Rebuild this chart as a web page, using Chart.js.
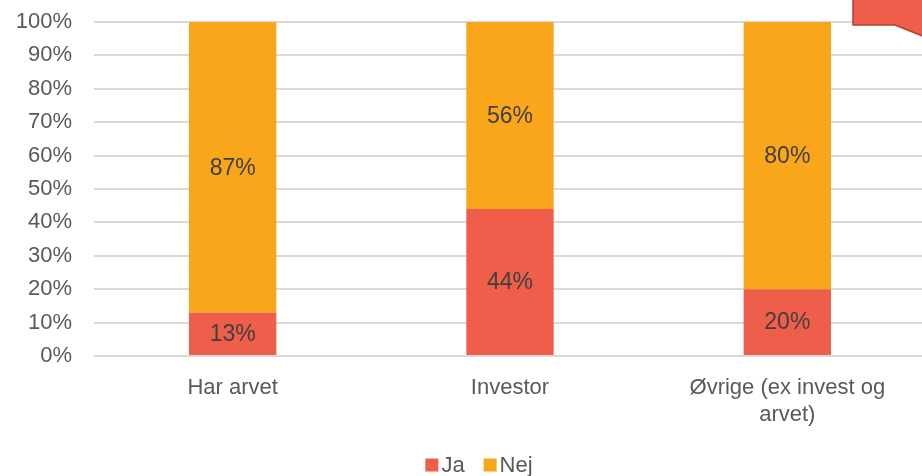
<!DOCTYPE html>
<html lang="da">
  <head>
    <meta charset="UTF-8" />
    <title>Ja / Nej</title>
    <style>
      body {
        margin: 0;
        background: #fff;
        overflow: hidden;
      }
      /* a few px wider than the window: the plot runs off the right edge like in the source */
      #wrap {
        width: 926px;
        height: 476px;
      }
    </style>
  </head>
  <body>
    <div id="wrap"><canvas id="chart"></canvas></div>

    <script src="https://cdn.jsdelivr.net/npm/chart.js"></script>
    <script>
      const categories = [
        "Har arvet",
        "Investor",
        ["Øvrige (ex invest og", "arvet)"],
      ];
      const jaValues = [13, 44, 20];
      const nejValues = [87, 56, 80];
      const seriesNames = ["Ja", "Nej"];

      const JA_COLOR = "#EE5E4A";
      const NEJ_COLOR = "#F9A61A";
      const FONT = "'Liberation Sans', Arial, sans-serif";

      // labels in the middle of each segment (no datalabels plugin offline)
      const segmentLabels = {
        id: "segmentLabels",
        afterDatasetsDraw(chart) {
          const ctx = chart.ctx;
          ctx.save();
          ctx.font = "23px " + FONT;
          ctx.fillStyle = "#404040";
          ctx.textAlign = "center";
          ctx.textBaseline = "middle";
          chart.data.datasets.forEach((ds, i) => {
            chart.getDatasetMeta(i).data.forEach((bar, j) => {
              const mid = (bar.y + bar.base) / 2;
              ctx.fillText(ds.data[j] + "%", bar.x, mid + 1);
            });
          });
          ctx.restore();
        },
      };

      // compact legend like excel: small square, text right next to it
      const compactLegend = {
        id: "compactLegend",
        afterDraw(chart) {
          const ctx = chart.ctx;
          const box = 13;
          const gap = 3;
          const itemGap = 19;
          ctx.save();
          ctx.font = "22px " + FONT;
          ctx.textBaseline = "middle";
          const items = chart.data.datasets.map((ds) => ({
            text: ds.label,
            color: ds.backgroundColor,
            w: box + gap + ctx.measureText(ds.label).width,
          }));
          const total =
            items.reduce((s, it) => s + it.w, 0) + itemGap * (items.length - 1);
          let x = 479 - total / 2;
          const y = 465;
          items.forEach((it) => {
            ctx.fillStyle = it.color;
            ctx.fillRect(x, y - box / 2, box, box);
            ctx.fillStyle = "#595959";
            ctx.fillText(it.text, x + box + gap, y + 1);
            x += it.w + itemGap;
          });
          ctx.restore();
        },
      };

      // the cut-off callout box in the top right corner
      const callout = {
        id: "callout",
        afterDraw(chart) {
          const ctx = chart.ctx;
          ctx.save();
          ctx.beginPath();
          ctx.moveTo(853, -5);
          ctx.lineTo(853, 25);
          ctx.lineTo(895, 25);
          ctx.lineTo(930, 39);
          ctx.lineTo(930, -5);
          ctx.closePath();
          ctx.fillStyle = JA_COLOR;
          ctx.fill();
          ctx.strokeStyle = "#B5412F";
          ctx.lineWidth = 1.5;
          ctx.stroke();
          ctx.restore();
        },
      };

      new Chart(document.getElementById("chart"), {
        type: "bar",
        data: {
          labels: categories,
          datasets: [
            {
              label: seriesNames[0],
              data: jaValues,
              backgroundColor: JA_COLOR,
              barPercentage: 0.315,
              categoryPercentage: 1,
            },
            {
              label: seriesNames[1],
              data: nejValues,
              backgroundColor: NEJ_COLOR,
              barPercentage: 0.315,
              categoryPercentage: 1,
            },
          ],
        },
        options: {
          responsive: true,
          maintainAspectRatio: false,
          animation: false,
          layout: {
            padding: { top: 22, left: 0, right: 0, bottom: 22 },
          },
          scales: {
            x: {
              stacked: true,
              grid: { display: false, drawTicks: false },
              border: { display: false },
              ticks: {
                color: "#595959",
                font: { family: FONT, size: 22 },
                padding: 19,
                maxRotation: 0,
              },
              afterFit: (scale) => {
                scale.height = 98;
                scale.paddingLeft = 0;
                scale.paddingRight = 0;
              },
            },
            y: {
              stacked: true,
              min: 0,
              max: 100,
              grid: { color: "#D9D9D9", lineWidth: 2, drawTicks: false },
              border: { display: false },
              ticks: {
                stepSize: 10,
                color: "#595959",
                font: { family: FONT, size: 22 },
                padding: 22,
                callback: (v) => v + "%",
              },
              afterFit: (scale) => {
                scale.width = 94;
                scale.paddingTop = 0;
                scale.paddingBottom = 0;
              },
            },
          },
          plugins: {
            legend: { display: false },
            tooltip: { enabled: false },
          },
        },
        plugins: [segmentLabels, compactLegend, callout],
      });
    </script>
  </body>
</html>
